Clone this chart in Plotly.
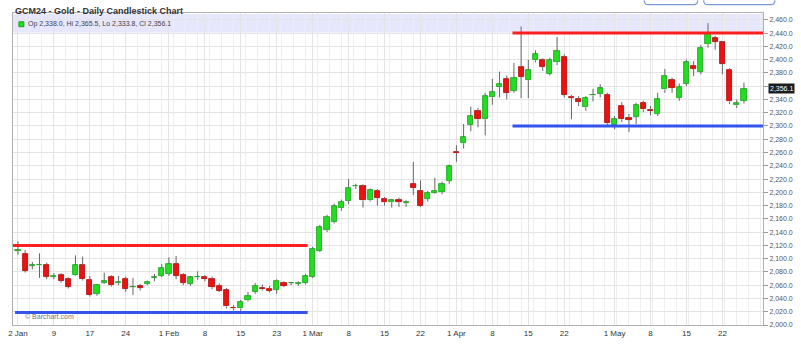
import plotly.graph_objects as go

# ---------------- data ----------------
jan = [2, 3, 4, 5, 8, 9, 10, 11, 12, 16, 17, 18, 19, 22, 23, 24, 25, 26, 29, 30, 31]
feb = [1, 2, 5, 6, 7, 8, 9, 12, 13, 14, 15, 16, 20, 21, 22, 23, 26, 27, 28, 29]
mar = [1, 4, 5, 6, 7, 8, 11, 12, 13, 14, 15, 18, 19, 20, 21, 22, 25, 26, 27, 28]
apr = [1, 2, 3, 4, 5, 8, 9, 10, 11, 12, 15, 16, 17, 18, 19, 22, 23, 24, 25, 26, 29, 30]
may = [1, 2, 3, 6, 7, 8, 9, 10, 13, 14, 15, 16, 17, 20, 21, 22, 23, 24, 28]
dates = ([f"2024-01-{d:02d}" for d in jan] + [f"2024-02-{d:02d}" for d in feb] +
         [f"2024-03-{d:02d}" for d in mar] + [f"2024-04-{d:02d}" for d in apr] +
         [f"2024-05-{d:02d}" for d in may])

opens = [2112, 2107, 2089, 2090, 2091, 2073, 2075, 2069, 2075, 2090,
         2068, 2047, 2064, 2072, 2063, 2069, 2057, 2059, 2062, 2071,
         2074, 2077, 2092, 2076, 2062, 2072, 2072, 2069, 2059, 2053,
         2026, 2025, 2037, 2050, 2056, 2055, 2053, 2064, 2063, 2062,
         2063, 2073, 2112, 2143, 2155, 2176, 2187, 2209, 2209, 2188,
         2202, 2190, 2185, 2189, 2184, 2213, 2202, 2190, 2199, 2201,
         2217, 2261, 2274, 2302, 2322, 2310, 2343, 2359, 2371, 2353,
         2389, 2369, 2399, 2399, 2379, 2396, 2404, 2343, 2340, 2328,
         2346, 2348, 2347, 2302, 2330, 2312, 2314, 2335, 2324, 2318,
         2355, 2369, 2342, 2364, 2391, 2382, 2423, 2432, 2426, 2384,
         2331, 2338.0]
highs = [2126, 2113, 2095, 2108, 2094, 2078, 2078, 2072, 2105, 2103,
         2074, 2062, 2079, 2075, 2074, 2073, 2071, 2062, 2067, 2077,
         2092, 2102, 2104, 2078, 2074, 2081, 2075, 2073, 2063, 2056,
         2030, 2038, 2050, 2063, 2061, 2059, 2069, 2066, 2065, 2066,
         2077, 2118, 2151, 2166, 2183, 2189, 2220, 2213, 2212, 2206,
         2205, 2193, 2190, 2192, 2188, 2246, 2218, 2202, 2222, 2216,
         2242, 2271, 2303, 2329, 2327, 2350, 2371, 2382, 2376, 2395,
         2450, 2400, 2414, 2402, 2403, 2434, 2408, 2347, 2345, 2345,
         2356, 2363, 2350, 2315, 2336, 2318, 2335, 2338, 2330, 2350,
         2386, 2373, 2364, 2400, 2398, 2422, 2455, 2436, 2428, 2387,
         2340, 2365.5]
lows = [2106, 2079, 2084, 2071, 2069, 2069, 2064, 2055, 2074, 2067,
        2043, 2044, 2062, 2058, 2060, 2050, 2045, 2052, 2060, 2066,
        2072, 2074, 2069, 2060, 2059, 2068, 2066, 2054, 2050, 2025,
        2022, 2020, 2035, 2047, 2052, 2049, 2047, 2057, 2060, 2059,
        2061, 2071, 2110, 2140, 2153, 2172, 2182, 2205, 2177, 2186,
        2180, 2180, 2177, 2178, 2178, 2196, 2178, 2186, 2198, 2197,
        2213, 2246, 2266, 2292, 2298, 2286, 2332, 2343, 2340, 2350,
        2342, 2342, 2396, 2383, 2376, 2392, 2343, 2310, 2330, 2323,
        2337, 2343, 2300, 2295, 2306, 2291, 2303, 2321, 2316, 2315,
        2350, 2350, 2338, 2360, 2375, 2378, 2418, 2415, 2378, 2333,
        2327, 2333.8]
closes = [2113, 2082, 2090, 2091, 2073, 2074, 2067, 2058, 2090, 2069,
          2045, 2060, 2066, 2060, 2065, 2055, 2057, 2056, 2065, 2072,
          2086, 2092, 2074, 2064, 2072, 2073, 2070, 2057, 2052, 2028,
          2025, 2035, 2044, 2059, 2054, 2052, 2067, 2059, 2063, 2064,
          2074, 2115, 2148, 2163, 2179, 2186, 2207, 2210, 2188, 2204,
          2191, 2185, 2188, 2185, 2185, 2207, 2180, 2199, 2202, 2213,
          2239, 2259, 2283, 2315, 2310, 2345, 2351, 2363, 2350, 2372,
          2374, 2384, 2408, 2389, 2399, 2413, 2347, 2342, 2336, 2342,
          2347, 2357, 2304, 2310, 2310, 2309, 2331, 2325, 2323, 2340,
          2376, 2357, 2359, 2396, 2386, 2417, 2438, 2427, 2394, 2337,
          2334, 2356.1]

tick_dates = ["2024-01-02", "2024-01-09", "2024-01-17", "2024-01-24", "2024-02-01",
              "2024-02-08", "2024-02-15", "2024-02-23", "2024-03-01", "2024-03-08",
              "2024-03-15", "2024-03-22", "2024-04-01", "2024-04-08", "2024-04-15",
              "2024-04-22", "2024-05-01", "2024-05-08", "2024-05-15", "2024-05-22"]
tick_text = ["2 Jan", "9", "17", "24", "1 Feb", "8", "15", "23", "1 Mar", "8",
             "15", "22", "1 Apr", "8", "15", "22", "1 May", "8", "15", "22"]

price_ticks = [2000, 2020, 2040, 2060, 2080, 2100, 2120, 2140, 2160, 2180, 2200,
               2220, 2240, 2260, 2280, 2300, 2320, 2340, 2360, 2380, 2400, 2420,
               2440, 2460]

# drawn support / resistance levels: (price, start index, end index, colour)
levels = [2120, 2019, 2440, 2300]
level_start = [-0.7, -0.4, 68.8, 68.8]
level_end = [40.3, 40.3, 104.1, 104.1]
level_color = ["#ff1f1f", "#3355ee", "#ff1f1f", "#3355ee"]

title = "GCM24 - Gold - Daily Candlestick Chart"

# ---------------- figure ----------------
x = list(range(len(dates)))
up_col, up_edge = "#22dd22", "#14a014"
dn_col, dn_edge = "#ee1111", "#b00000"
wick_col = "#666666"

# wicks (split so they don't cross the bodies)
wx, wy = [], []
for i in x:
    top = max(opens[i], closes[i])
    bot = min(opens[i], closes[i])
    wx += [i, i, None, i, i, None]
    wy += [highs[i], top, None, bot, lows[i], None]

fig = go.Figure()
fig.add_trace(go.Scatter(x=wx, y=wy, mode="lines",
                         line=dict(color=wick_col, width=1),
                         hoverinfo="skip", showlegend=False))

base = [min(o, c) for o, c in zip(opens, closes)]
height = [max(abs(c - o), 0.9) for o, c in zip(opens, closes)]
cols = [up_col if c >= o else dn_col for o, c in zip(opens, closes)]
edges = [up_edge if c >= o else dn_edge for o, c in zip(opens, closes)]
fig.add_trace(go.Bar(x=x, y=height, base=base, width=0.72,
                     marker=dict(color=cols, line=dict(color=edges, width=0.8)),
                     showlegend=False, hoverinfo="skip"))

tickvals = [dates.index(d) for d in tick_dates]

last = len(dates) - 1
# the last-price box covers the nearest price label
covered = min(price_ticks, key=lambda p: abs(p - closes[last]))
price_text = ["" if p == covered else f"{p:,.1f}" for p in price_ticks]

shapes = []
# lavender header band
shapes.append(dict(type="rect", xref="paper", yref="paper", x0=0, x1=1,
                   y0=(332 - 33) / 319, y1=(332 - 14) / 319,
                   fillcolor="rgba(200,200,250,0.45)", line=dict(width=0), layer="below"))
# legend swatch
shapes.append(dict(type="rect", xref="paper", yref="paper",
                   x0=(14 - 8) / 758, x1=(19 - 8) / 758,
                   y0=(332 - 27) / 319, y1=(332 - 22) / 319,
                   fillcolor=up_col, line=dict(color=up_edge, width=1)))
# level lines
for lv, a, b, c in zip(levels, level_start, level_end, level_color):
    shapes.append(dict(type="line", xref="x", yref="y", x0=a, x1=b, y0=lv, y1=lv,
                       line=dict(color=c, width=3)))
# blue tab brackets at top right
def bracket(px0, px1):
    x0 = (px0 - 8) / 758
    x1 = (px1 - 8) / 758
    yt = (332 - 0) / 319
    yb = (332 - 4.5) / 319
    dx = 4 / 758
    return dict(type="path", xref="paper", yref="paper",
                path=f"M {x0},{yt} Q {x0},{yb} {x0+dx},{yb} L {x1-dx},{yb} Q {x1},{yb} {x1},{yt}",
                line=dict(color="#7a9ad8", width=1.2))
shapes.append(bracket(646, 700))
shapes.append(bracket(706, 778))

legend_txt = (f"Op {opens[last]:,.1f}, Hi {highs[last]:,.1f}, "
              f"Lo {lows[last]:,.1f}, Cl {closes[last]:,.1f}")

annotations = [
    dict(text=f"<b>{title}</b>", xref="paper", yref="paper", x=(8 - 8) / 758,
         y=(332 - 10.5) / 319, xanchor="left", yanchor="middle", showarrow=False,
         font=dict(family="Liberation Sans, Arial", size=9, color="#333333")),
    dict(text=legend_txt, xref="paper", yref="paper", x=(21 - 8) / 758,
         y=(332 - 24.5) / 319, xanchor="left", yanchor="middle", showarrow=False,
         font=dict(family="Liberation Sans, Arial", size=7, color="#444444")),
    dict(text="© Barchart.com", xref="paper", yref="paper", x=(18 - 8) / 758,
         y=(332 - 323) / 319, xanchor="left", yanchor="middle", showarrow=False,
         font=dict(family="Liberation Sans, Arial", size=7, color="#777777")),
    dict(text=f"{closes[last]:,.1f}", xref="paper", yref="y", x=1, y=closes[last],
         xanchor="left", yanchor="middle", xshift=5, showarrow=False,
         bgcolor="#1c1c1c", borderpad=1,
         font=dict(family="Liberation Sans, Arial", size=7, color="#ffffff")),
]

fig.update_layout(
    width=801, height=346,
    margin=dict(l=8, r=35, t=13, b=14),
    paper_bgcolor="white", plot_bgcolor="white",
    shapes=shapes, annotations=annotations,
    bargap=0, barmode="overlay",
    showlegend=False,
    font=dict(family="Liberation Sans, Arial", color="#333333"),
)
fig.update_xaxes(
    range=[-0.69, 103.65], tickvals=tickvals, ticktext=tick_text,
    showgrid=True, gridcolor="#e4e4e4", gridwidth=1,
    minor=dict(dtick=5 / 3, tick0=0, showgrid=True, gridcolor="#eeeeee", gridwidth=1),
    showline=True, linecolor="#b0b0b0", linewidth=1, mirror=True,
    ticks="", tickfont=dict(size=8, color="#333333"), zeroline=False,
)
fig.update_yaxes(
    range=[2000, 2470.3], side="right", tickvals=price_ticks, ticktext=price_text,
    showgrid=True, gridcolor="#e4e4e4", gridwidth=1,
    showline=True, linecolor="#b0b0b0", linewidth=1, mirror=True,
    ticks="outside", ticklen=4, tickcolor="#999999",
    tickfont=dict(size=7, color="#555555"), zeroline=False,
)

fig.write_html("out.html")
